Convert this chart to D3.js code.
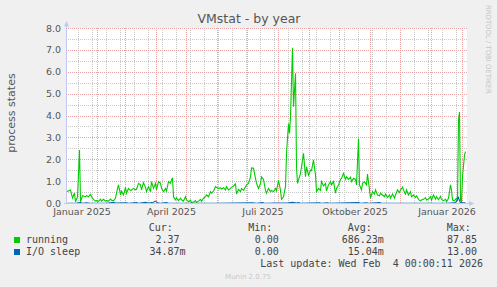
<!DOCTYPE html>
<html>
<head>
<meta charset="utf-8">
<script src="https://cdn.jsdelivr.net/npm/d3@7"></script>
<style>
html, body { margin: 0; padding: 0; background: #f0f0f0; }
svg { display: block; }
text { font-family: "DejaVu Sans", sans-serif; }
.mono { font-family: "DejaVu Sans Mono", monospace; white-space: pre; }
</style>
</head>
<body>
<script>
// days since 2025-01-01 and daily values
const runningDays = [
  0, 4, 6, 8, 9, 11, 13, 14, 16, 19,
  20, 22, 24, 25, 27, 29, 30, 32, 34, 35,
  37, 39, 40, 42, 44, 45, 47, 49, 50, 52,
  54, 55, 57, 59, 60, 62, 64, 65, 67, 69,
  70, 72, 74, 75, 77, 79, 80, 82, 84, 85,
  87, 89, 90, 92, 94, 95, 97, 99, 100, 102,
  104, 105, 106, 107, 109, 110, 112, 114, 115, 117,
  119, 120, 122, 124, 125, 127, 129, 130, 132, 134,
  135, 137, 139, 140, 142, 144, 145, 147, 149, 150,
  152, 154, 155, 157, 159, 160, 162, 164, 165, 167,
  169, 170, 172, 174, 175, 177, 179, 180, 182, 184,
  185, 187, 189, 190, 192, 194, 195, 197, 199, 200,
  202, 204, 205, 207, 209, 210, 212, 214, 215, 217,
  219, 220, 222, 223, 224, 226, 227, 229, 230, 231,
  234, 235, 237, 239, 240, 242, 244, 245, 247, 249,
  250, 252, 254, 255, 257, 259, 260, 262, 264, 265,
  267, 269, 270, 272, 274, 275, 277, 279, 280, 282,
  284, 285, 287, 289, 290, 292, 293, 295, 296, 298,
  300, 301, 303, 304, 306, 308, 309, 311, 313, 314,
  316, 318, 319, 321, 323, 324, 326, 328, 329, 331,
  333, 334, 336, 338, 339, 340, 342, 344, 345, 347,
  349, 350, 352, 354, 355, 357, 359, 360, 362, 364,
  365, 367, 369, 370, 372, 374, 375, 377, 379, 380,
  382, 384, 385, 386, 388, 390, 391, 392, 393, 394,
  395, 396, 398, 399
];
const running = [
  0.54, 0.62, 0.25, 0.48, 0.08, 0.31, 2.44, 0.08, 0.36, 0.31,
  0.36, 0.31, 0.42, 0.31, 0.19, 0.11, 0.13, 0.10, 0.20, 0.11,
  0.19, 0.11, 0.13, 0.11, 0.20, 0.15, 0.13, 0.24, 0.47, 0.85,
  0.39, 0.57, 0.39, 0.74, 0.47, 0.69, 0.59, 0.62, 0.69, 0.62,
  0.65, 0.92, 0.85, 0.62, 0.95, 0.74, 0.54, 0.77, 0.54, 1.00,
  0.69, 0.92, 0.62, 1.00, 0.92, 0.69, 0.54, 0.69, 0.57, 1.00,
  0.92, 1.07, 1.18, 0.31, 0.17, 0.26, 0.13, 0.24, 0.17, 0.11,
  0.31, 0.17, 0.08, 0.15, 0.05, 0.06, 0.13, 0.05, 0.11, 0.19,
  0.10, 0.24, 0.31, 0.39, 0.31, 0.54, 0.47, 0.57, 0.77, 0.74,
  0.69, 0.72, 0.66, 0.72, 0.62, 0.77, 0.62, 0.69, 0.74, 0.80,
  0.89, 0.43, 0.65, 0.54, 0.69, 0.60, 0.77, 0.85, 0.92, 1.22,
  1.63, 1.61, 1.15, 0.92, 0.69, 0.92, 1.22, 1.10, 0.60, 0.47,
  0.69, 0.54, 0.60, 0.54, 0.69, 0.58, 1.07, 0.60, 0.19, 0.31,
  0.77, 2.29, 3.66, 3.20, 3.96, 7.12, 4.42, 5.95, 1.68, 0.92,
  1.38, 1.68, 2.29, 1.22, 1.68, 1.30, 1.53, 1.50, 1.99, 1.30,
  0.54, 0.69, 0.60, 1.00, 0.80, 0.92, 0.58, 0.85, 1.00, 0.85,
  1.00, 0.47, 0.69, 0.85, 1.10, 1.15, 1.38, 1.10, 1.22, 1.10,
  1.20, 1.00, 1.15, 1.10, 0.85, 2.95, 0.85, 0.62, 0.92, 0.99,
  0.85, 1.35, 0.62, 0.24, 0.54, 0.43, 0.62, 0.39, 0.35, 0.47,
  0.39, 0.31, 0.43, 0.27, 0.39, 0.24, 0.43, 0.24, 0.39, 0.62,
  0.50, 0.62, 0.75, 0.50, 0.43, 0.62, 0.39, 0.54, 0.31, 0.39,
  0.27, 0.35, 0.19, 0.11, 0.16, 0.19, 0.27, 0.16, 0.20, 0.31,
  0.16, 0.39, 0.20, 0.31, 0.17, 0.33, 0.19, 0.13, 0.19, 0.08,
  0.24, 0.85, 0.62, 0.16, 0.13, 0.24, 0.16, 3.81, 4.18, 0.16,
  0.08, 1.22, 2.21, 2.37
];
const sleepDays = [
  0, 10, 14, 16, 20, 24, 40, 47, 49, 60,
  62, 70, 72, 79, 82, 87, 89, 91, 94, 100,
  102, 120, 150, 186, 190, 196, 198, 222, 226, 230,
  232, 234, 253, 255, 261, 263, 292, 294, 300, 302,
  310, 313, 315, 350, 380, 388, 390, 392, 393, 394,
  396, 399
];
const sleep = [
  0.01, 0.02, 0.04, 0.01, 0.03, 0.01, 0.01, 0.05, 0.02, 0.03,
  0.01, 0.04, 0.01, 0.05, 0.02, 0.06, 0.11, 0.03, 0.01, 0.04,
  0.01, 0.01, 0.01, 0.03, 0.01, 0.04, 0.01, 0.03, 0.05, 0.02,
  0.04, 0.01, 0.03, 0.01, 0.03, 0.01, 0.04, 0.01, 0.03, 0.01,
  0.03, 0.04, 0.01, 0.01, 0.01, 0.03, 0.10, 0.28, 0.12, 0.03,
  0.03, 0.03
];

const yTicks = [0, 1, 2, 3, 4, 5, 6, 7, 8];
const xLabels = ["Januar 2025", "April 2025", "Juli 2025", "Oktober 2025", "Januar 2026"];
const xLabelMonths = [[2025, 0], [2025, 3], [2025, 6], [2025, 9], [2026, 0]];

const seriesNames = ["running", "I/O sleep"];
const seriesColors = ["#00cc00", "#0066b3"];
const curVals = ["2.37", "34.87m"];
const minVals = ["0.00", "0.00"];
const avgVals = ["686.23m", "15.04m"];
const maxVals = ["87.85", "13.00"];

const W = 497, H = 287;
const svg = d3.select("body").append("svg").attr("width", W).attr("height", H);
svg.append("rect").attr("width", W).attr("height", H).attr("fill", "#f0f0f0");

const day0 = new Date(Date.UTC(2025, 0, 1));
const x = d3.scaleUtc()
  .domain([new Date(Date.UTC(2024, 11, 31)), new Date(Date.UTC(2026, 1, 4))])
  .range([65.5, 465.5]);
const y = d3.scaleLinear().domain([0, 8]).range([203.5, 28.5]);
const snap = v => Math.round(v - 0.5) + 0.5;
const left = 66, right = 467;

// canvas
svg.append("rect").attr("x", left).attr("y", 28).attr("width", right - left).attr("height", 176)
  .attr("fill", "#ffffff");

const grid = svg.append("g").attr("shape-rendering", "crispEdges");
// minor grid
const minorY = d3.range(0.5, 8, 1);
grid.selectAll(".hmin").data(minorY).enter().append("line")
  .attr("x1", left).attr("x2", right)
  .attr("y1", d => snap(y(d))).attr("y2", d => snap(y(d)))
  .attr("stroke", "#c8c8c8").attr("stroke-dasharray", "1,1");
const minorX = d3.utcDay.range(new Date(Date.UTC(2025, 0, 13)), new Date(Date.UTC(2026, 1, 4)), 14);
grid.selectAll(".vmin").data(minorX).enter().append("line")
  .attr("x1", d => snap(x(d))).attr("x2", d => snap(x(d)))
  .attr("y1", 28).attr("y2", 203)
  .attr("stroke", "#c8c8c8").attr("stroke-dasharray", "1,1");
// major grid
grid.selectAll(".hmaj").data(yTicks).enter().append("line")
  .attr("x1", left).attr("x2", right)
  .attr("y1", d => snap(y(d))).attr("y2", d => snap(y(d)))
  .attr("stroke", "#eba2a2").attr("stroke-dasharray", "1,1");
const majorX = d3.utcMonth.range(new Date(Date.UTC(2025, 1, 1)), new Date(Date.UTC(2026, 1, 4)));
grid.selectAll(".vmaj").data(majorX).enter().append("line")
  .attr("x1", d => snap(x(d))).attr("x2", d => snap(x(d)))
  .attr("y1", 28).attr("y2", 203)
  .attr("stroke", "#eba2a2").attr("stroke-dasharray", "1,1");

// y tick labels
svg.selectAll(".ytl").data(yTicks).enter().append("text")
  .attr("x", 61).attr("y", d => y(d) + 3)
  .attr("text-anchor", "end").attr("font-size", "9.5px").attr("fill", "#555")
  .text(d => d3.format(".1f")(d));

// x labels, centred on their month
svg.selectAll(".xtl").data(xLabels).enter().append("text")
  .attr("x", (d, i) => {
    const a = new Date(Date.UTC(xLabelMonths[i][0], xLabelMonths[i][1], 1));
    const b = d3.utcMonth.offset(a, 1);
    return (x(a) + x(b)) / 2;
  })
  .attr("y", 215).attr("text-anchor", "middle").attr("font-size", "9.5px").attr("fill", "#555")
  .text(d => d);

// series
const line = d3.line().x(d => x(d[0])).y(d => y(d[1]));
const toDate = d => d3.utcDay.offset(day0, d);
svg.append("path")
  .datum(runningDays.map((d, i) => [toDate(d), running[i]]))
  .attr("d", line).attr("fill", "none").attr("stroke", seriesColors[0]).attr("stroke-width", 1.1);
svg.append("path")
  .datum(sleepDays.map((d, i) => [toDate(d), sleep[i]]))
  .attr("d", line).attr("fill", "none").attr("stroke", seriesColors[1]).attr("stroke-width", 1.1);

// axes with arrows
const axisCol = "#c4c8f0";
svg.append("line").attr("x1", 66.5).attr("x2", 66.5).attr("y1", 25).attr("y2", 204)
  .attr("stroke", axisCol).attr("shape-rendering", "crispEdges");
svg.append("line").attr("x1", 64).attr("x2", 470).attr("y1", 203.5).attr("y2", 203.5)
  .attr("stroke", axisCol).attr("shape-rendering", "crispEdges");
svg.append("path").attr("d", "M64,26.5L66.5,21L69,26.5Z").attr("fill", axisCol);
svg.append("path").attr("d", "M469,201L474.5,203.5L469,206Z").attr("fill", axisCol);

// title and labels
svg.append("text").attr("x", 249).attr("y", 23).attr("text-anchor", "middle")
  .attr("font-size", "12.5px").attr("fill", "#555").text("VMstat - by year");
svg.append("text").attr("transform", "translate(15,113) rotate(-90)").attr("text-anchor", "middle")
  .attr("font-size", "11px").attr("fill", "#555").text("process states");
svg.append("text").attr("transform", "translate(486,5) rotate(90)")
  .attr("font-size", "6.9px").attr("fill", "#c4c4c4").text("RRDTOOL / TOBI OETIKER");

// legend
const lg = svg.append("g").attr("class", "mono").attr("font-size", "10px").attr("fill", "#444");
[["Cur:", 148.7], ["Min:", 248.3], ["Avg:", 347.7], ["Max:", 446.7]].forEach(h => {
  lg.append("text").attr("class", "mono").attr("x", h[1]).attr("y", 230.5).text(h[0]);
});
const colEnds = [179.6, 278.9, 377.8, 477];
const cols = [curVals, minVals, avgVals, maxVals];
seriesNames.forEach((name, i) => {
  const by = 242.5 + i * 12;
  lg.append("rect").attr("x", 14).attr("y", by - 5.5).attr("width", 6).attr("height", 6)
    .attr("fill", seriesColors[i]);
  lg.append("text").attr("class", "mono").attr("x", 26).attr("y", by).text(name);
  cols.forEach((vals, c) => {
    const v = vals[i];
    const num = v.replace(/[a-zA-Z]$/, "");
    const suf = v.slice(num.length);
    lg.append("text").attr("class", "mono").attr("x", colEnds[c]).attr("y", by)
      .attr("text-anchor", "end").text(num);
    if (suf) lg.append("text").attr("class", "mono").attr("x", colEnds[c]).attr("y", by).text(suf);
  });
});
lg.append("text").attr("class", "mono").attr("x", 483).attr("y", 266.5).attr("text-anchor", "end")
  .text("Last update: Wed Feb  4 00:00:11 2026");

svg.append("text").attr("x", 248).attr("y", 279).attr("text-anchor", "middle")
  .attr("font-size", "7px").attr("fill", "#c8c8c8").text("Munin 2.0.75");
</script>
</body>
</html>
